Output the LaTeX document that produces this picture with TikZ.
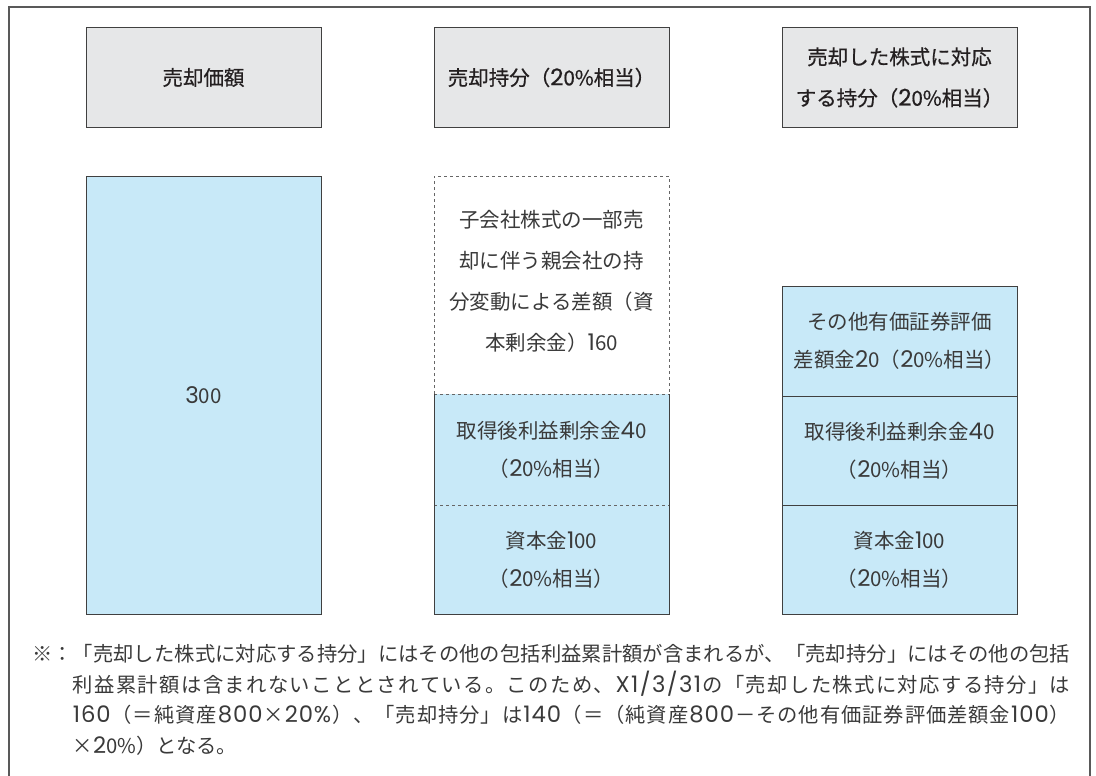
\documentclass[tikz,border=0pt]{standalone}
\usepackage{fontspec}
\setmainfont{Noto Sans CJK JP}
\newfontfamily\hdrfont[FakeBold=0.6]{Noto Sans CJK JP}
\newfontfamily\dgfont[Scale=1.12]{Poppins}
\newfontfamily\hdrdgfont[FakeBold=0.6,Scale=1.12]{Poppins}
\let\cjkback\rmfamily
\let\dgcur\dgfont
% automatic digit font switching
\XeTeXinterchartokenstate=1
\newXeTeXintercharclass\dgclass
\XeTeXcharclass`\0=\dgclass \XeTeXcharclass`\1=\dgclass \XeTeXcharclass`\2=\dgclass
\XeTeXcharclass`\3=\dgclass \XeTeXcharclass`\4=\dgclass \XeTeXcharclass`\5=\dgclass
\XeTeXcharclass`\6=\dgclass \XeTeXcharclass`\7=\dgclass \XeTeXcharclass`\8=\dgclass
\XeTeXcharclass`\9=\dgclass \XeTeXcharclass`\%=\dgclass \XeTeXcharclass`\/=\dgclass
\XeTeXcharclass`\X=\dgclass
\XeTeXinterchartoks 0 \dgclass={\dgcur}
\XeTeXinterchartoks 1 \dgclass={\dgcur}
\XeTeXinterchartoks 2 \dgclass={\dgcur}
\XeTeXinterchartoks 3 \dgclass={\dgcur}
\XeTeXinterchartoks 4095 \dgclass={\dgcur}
\XeTeXinterchartoks \dgclass 0={\cjkback}
\XeTeXinterchartoks \dgclass 1={\cjkback}
\XeTeXinterchartoks \dgclass 2={\cjkback}
\XeTeXinterchartoks \dgclass 3={\cjkback}
\XeTeXinterchartoks \dgclass 4095={\cjkback}
\makeatletter
\def\spr#1{\spr@@#1\@nil}
\def\spr@@#1{#1\spr@}
\def\spr@#1{\ifx\@nil#1\else\hskip0pt plus 1pt\relax#1\expandafter\spr@\fi}
\makeatother
\definecolor{hdrgray}{HTML}{E6E7E8}
\definecolor{boxblue}{HTML}{C8E9F8}
\definecolor{txt}{HTML}{3A3A3A}
\definecolor{hdrtxt}{HTML}{231F20}
\definecolor{edge}{HTML}{404040}
\begin{document}
\begin{tikzpicture}[x=1pt,y=-1pt,
  frame/.style={draw=black!65, line width=1.2pt},
  hdr/.style={draw=edge, fill=hdrgray, line width=1pt, minimum width=235pt, minimum height=99pt,
    align=center, text=hdrtxt, inner sep=0pt, outer sep=0pt,
    font=\let\cjkback\hdrfont\let\dgcur\hdrdgfont\hdrfont\fontsize{20.5}{41}\selectfont},
  part/.style={minimum width=235pt, align=center, text=txt, inner sep=0pt, outer sep=0pt,
    font=\fontsize{20.5}{38}\selectfont},
  bluepart/.style={part, fill=boxblue},
  solidedge/.style={draw=edge, line width=1pt},
  dashedge/.style={draw=edge!80, line width=1pt, dash pattern=on 3pt off 3pt},
  note/.style={anchor=north west, align=left, text=txt, inner sep=0pt, font=\fontsize{20.3}{30.8}\selectfont}
]
\useasboundingbox (0,0) rectangle (1096,776);
\fill[white] (0,0) rectangle (1096,776);
% outer frame
\coordinate (fbl) at (9,776);
\coordinate (ftl) at (9,7);
\coordinate (ftr) at (1090,7);
\coordinate (fbr) at (1090,776);
\draw[frame] (fbl) -- (ftl) -- (ftr) -- (fbr);

% headers
\node[hdr] (h1) at (203.5,77.5) {売却価額};
\node[hdr] (h2) at (551.5,77.5) {売却持分（20\%相当）};
\node[hdr] (h3) at (899.5,77.5) {売却した株式に対応\\する持分（20\%相当）};

% column 1
\node[bluepart, minimum height=438pt] (c1) at (203.5,395) {300};
\draw[solidedge] (c1.north west) rectangle (c1.south east);

% column 2
\node[part, minimum height=218pt, font=\fontsize{20.5}{41}\selectfont] (c2a) at (551.5,281)
  {子会社株式の一部売\\却に伴う親会社の持\\分変動による差額（資\\本剰余金）160};
\coordinate (c2aSW) at (434,394);
\coordinate (c2aNW) at (434,176);
\coordinate (c2aNE) at (669,176);
\coordinate (c2aSE) at (669,394);
\node[bluepart, minimum height=111pt] (c2b) at (551.5,449.5) {取得後利益剰余金40\\（20\%相当）};
\node[bluepart, minimum height=109pt] (c2c) at (551.5,559.5) {資本金100\\（20\%相当）};
\draw[dashedge] (c2aSW) -- (c2aNW) -- (c2aNE) -- (c2aSE);
\draw[dashedge] (c2b.north west) -- (c2b.north east);
\draw[dashedge] (c2b.south west) -- (c2b.south east);
\draw[solidedge] (c2b.north west) -- (c2c.south west) -- (c2c.south east) -- (c2b.north east);

% column 3
\node[bluepart, minimum height=110pt] (c3a) at (899.5,341) {その他有価証券評価\\差額金20（20\%相当）};
\node[bluepart, minimum height=109pt] (c3b) at (899.5,450.5) {取得後利益剰余金40\\（20\%相当）};
\node[bluepart, minimum height=109pt] (c3c) at (899.5,559.5) {資本金100\\（20\%相当）};
\draw[solidedge] (c3a.north west) rectangle (c3c.south east);
\draw[solidedge] (c3b.north west) -- (c3b.north east);
\draw[solidedge] (c3c.north west) -- (c3c.north east);

% footnote
\node[note] (fn) at (32,644) {%
\hbox to 1038pt{\spr{※：「売却した株式に対応する持分」にはその他の包括利益累計額が含まれるが、「売却持分」にはその他の包括}}\\
\hspace*{40.6pt}\hbox to 997.4pt{\spr{利益累計額は含まれないこととされている。このため、X1/3/31の「売却した株式に対応する持分」は}}\\
\hspace*{40.6pt}\hbox to 997.4pt{\spr{160（＝純資産800×20\%）、「売却持分」は140（＝（純資産800－その他有価証券評価差額金100）}}\\
\hspace*{40.6pt}×20\%）となる。};
\end{tikzpicture}
\end{document}
